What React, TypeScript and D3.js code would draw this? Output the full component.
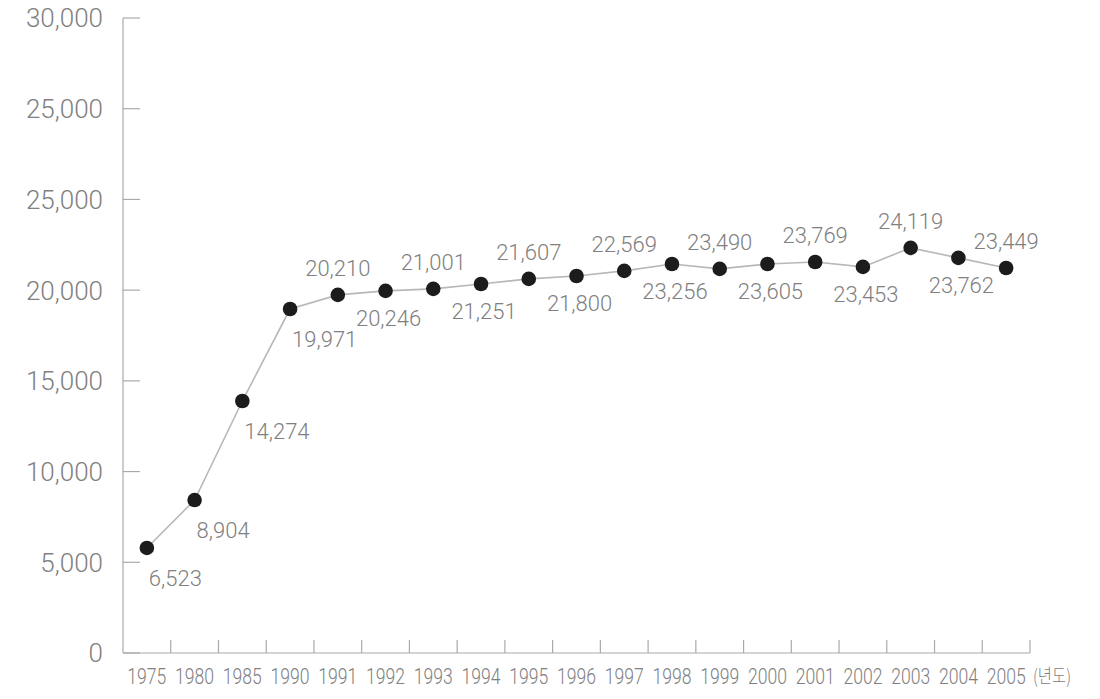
import React from "react";
import * as d3 from "d3";

// Categories (x axis)
const years = ["1975","1980","1985","1990","1991","1992","1993","1994","1995","1996","1997","1998","1999","2000","2001","2002","2003","2004","2005"];
// Values as plotted in the picture
const plotted = [5790, 8430, 13890, 18960, 19740, 19960, 20070, 20340, 20620, 20780, 21060, 21440, 21170, 21440, 21550, 21280, 22330, 21780, 21220];
// Printed value labels
const valueLabels = ["6,523","8,904","14,274","19,971","20,210","20,246","21,001","21,251","21,607","21,800","22,569","23,256","23,490","23,605","23,769","23,453","24,119","23,762","23,449"];
// Label placement: "br" below-right, "a" above, "b" below
const placement = ["br","br","br","br","a","b","a","b","a","b","a","b","a","b","a","b","a","b","a"];
// Y ticks and their printed labels (as in the original)
const yTickValues = [0, 5000, 10000, 15000, 20000, 25000, 30000, 35000];
const yTickLabels = ["0","5,000","10,000","15,000","20,000","25,000","25,000","30,000"];
const xUnit = "(년도)";

const W = 1100, H = 699;
const left = 123, right = 1030, top = 18, bottom = 653;

export default function App() {
  const x = d3.scaleBand<string>().domain(years).range([left, right]).paddingInner(0).paddingOuter(0);
  const y = d3.scaleLinear().domain([0, 35000]).range([bottom, top]);
  const cx = (i: number) => (x(years[i]) as number) + x.bandwidth() / 2;
  const line = d3.line<number>().x((_, i) => cx(i)).y((d) => y(d));
  const axisColor = "#aaaaaa";
  const textColor = "#808080";
  const font = "Roboto, 'Liberation Sans', sans-serif";

  return (
    <svg width={W} height={H} style={{ position: "absolute", left: 0, top: 0, background: "#fff" }} fontFamily={font}>
      {/* y axis */}
      <line x1={left} x2={left} y1={top} y2={bottom} stroke={axisColor} strokeWidth={1.2} />
      {yTickValues.map((v, i) => (
        <g key={"yt" + i}>
          <line x1={left} x2={left + 17} y1={y(v)} y2={y(v)} stroke={axisColor} strokeWidth={1.2} />
          <text x={103} y={y(v)} dy="0.36em" textAnchor="end" fontSize={26} fontWeight={300} fill={textColor}>
            {yTickLabels[i]}
          </text>
        </g>
      ))}
      {/* x axis */}
      <line x1={left} x2={right} y1={bottom} y2={bottom} stroke={axisColor} strokeWidth={1.2} />
      {years.map((yr, i) => (
        <line key={"xt" + i} x1={(x(yr) as number) + x.bandwidth()} x2={(x(yr) as number) + x.bandwidth()} y1={bottom} y2={bottom - 13} stroke={axisColor} strokeWidth={1.2} />
      ))}
      {years.map((yr, i) => (
        <text key={"xl" + i} x={cx(i)} y={676} dy="0.36em" textAnchor="middle" fontSize={22} fontWeight={300} fill={textColor}
          textLength={39} lengthAdjust="spacingAndGlyphs">
          {yr}
        </text>
      ))}
      <text x={1033} y={676} dy="0.36em" textAnchor="start" fontSize={19} fontWeight={300} fill={textColor}
        fontFamily="'Noto Sans CJK KR', sans-serif" textLength={38} lengthAdjust="spacingAndGlyphs">{xUnit}</text>
      {/* line */}
      <path d={line(plotted) || ""} fill="none" stroke="#b8b8b8" strokeWidth={1.6} />
      {plotted.map((v, i) => (
        <circle key={"c" + i} cx={cx(i)} cy={y(v)} r={7.3} fill="#1c1c1c" />
      ))}
      {plotted.map((v, i) => {
        const p = placement[i];
        let tx = cx(i), ty = y(v), anchor: "start" | "middle" = "middle";
        if (p === "br") { tx = cx(i) + 2; ty = y(v) + 30; anchor = "start"; }
        else if (p === "a") { ty = y(v) - 27; }
        else { tx = cx(i) + 3; ty = y(v) + 27; }
        return (
          <text key={"vl" + i} x={tx} y={ty} dy="0.36em" textAnchor={anchor} fontSize={22} fontWeight={300} fill={textColor}>
            {valueLabels[i]}
          </text>
        );
      })}
    </svg>
  );
}
